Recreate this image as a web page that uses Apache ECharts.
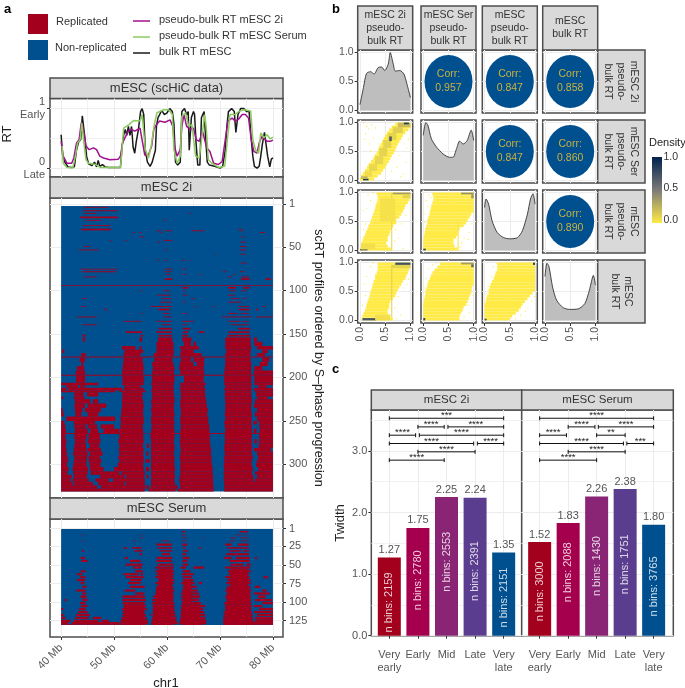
<!DOCTYPE html>
<html>
<head>
<meta charset="utf-8">
<script src="https://cdn.jsdelivr.net/npm/echarts@6/dist/echarts.min.js"></script>
<style>html,body{margin:0;padding:0;background:#fff}#chart{width:685px;height:688px}</style>
</head>
<body>
<div id="chart"></div>
<script>
// --- panel a: RT profiles, [Mb, RT]
var rtBulk = [[40,.56],[40.3,.2],[40.7,.1],[41.3,.02],[42,.01],[42.5,.02],[42.9,.3],[43.3,.44],[43.7,.48],[44,.88],[44.2,.85],[44.5,.5],[44.8,.2],[45.2,.07],[45.8,.04],[46.3,.1],[46.7,.02],[47,.13],[47.3,.03],[47.8,.06],[48.3,.02],[49,.01],[50.5,.01],[51.2,.01],[51.5,.35],[51.8,.55],[52.1,.65],[52.4,.55],[52.7,.7],[53,.55],[53.3,.7],[53.6,.35],[53.9,.25],[54.2,.45],[54.6,.65],[55,.95],[55.3,1],[55.6,.9],[55.9,.3],[56.3,.1],[56.8,.03],[57.2,.1],[57.5,.1],[57.8,.3],[58,.7],[58.3,.85],[58.6,.9],[59,.97],[59.5,.9],[60,.93],[60.5,1],[61,.95],[61.3,.75],[61.6,.1],[62,.05],[62.5,.1],[62.8,.95],[63.3,1],[63.7,.9],[64,.95],[64.2,.3],[64.6,.85],[65,.95],[65.2,.9],[65.5,.4],[65.8,.05],[66.2,.05],[66.5,.85],[67,.95],[67.3,.5],[67.6,.1],[68,.05],[69,.03],[70,0],[70.5,.03],[71,.3],[71.3,.7],[71.6,.95],[72.2,1],[72.7,.95],[73,.6],[73.4,.9],[73.9,1],[74.5,1],[75,.95],[75.5,.95],[75.9,.5],[76.2,.2],[76.5,.03],[77,0],[77.4,.03],[77.7,.2],[78,.4],[78.4,.6],[78.7,.4],[79,.2],[79.4,.02],[79.7,.15],[80,.17]];
var rt2i = [[40,.45],[40.4,.2],[41.1,.08],[42,.08],[42.4,.17],[42.9,.42],[43.4,.48],[43.8,.76],[44.1,.7],[44.3,.59],[44.7,.37],[45.3,.31],[46.1,.34],[46.7,.31],[47.3,.2],[48,.17],[49.2,.14],[50.8,.15],[51.2,.2],[51.6,.42],[52,.5],[52.7,.62],[53.3,.65],[53.9,.62],[54.9,.67],[55.2,.67],[55.4,.42],[55.8,.22],[56.4,.2],[57.1,.37],[57.5,.65],[58,.73],[58.6,.79],[59.6,.77],[60.6,.81],[61.1,.7],[61.4,.37],[61.9,.2],[62.5,.31],[62.8,.7],[63.2,.9],[63.7,.7],[64.4,.65],[65,.67],[65.5,.48],[66.1,.45],[66.7,.62],[67,.59],[67.5,.34],[68.1,.28],[68.8,.08],[69.7,.06],[70.4,.11],[71,.48],[71.5,.79],[72.3,.84],[72.9,.79],[73.5,.82],[74.2,.9],[74.8,.9],[75.4,.84],[75.9,.48],[76.4,.28],[77,.25],[77.4,.42],[77.9,.53],[78.9,.45],[79.5,.45],[80,.47]];
var rtSerum = [[40.2,.37],[40.4,.08],[41.1,.01],[42.2,0],[42.7,.2],[43.1,.42],[43.6,.48],[43.9,.76],[44.3,.42],[44.7,.14],[45.2,.08],[46.5,.06],[47.4,.01],[50.6,.01],[51.2,.01],[51.4,.2],[51.8,.67],[52.8,.73],[53.7,.8],[54.9,.79],[55.3,.9],[55.6,.87],[55.9,.31],[56.5,.17],[57,.37],[57.6,.73],[58.1,.93],[59.4,.98],[60.3,.98],[61,.9],[61.3,.31],[61.9,.08],[62.5,.2],[62.8,.87],[63.5,.93],[64.1,.7],[64.7,.73],[65.4,.2],[66.1,.17],[67.1,.9],[67.4,.7],[67.8,.14],[68.5,.08],[69.8,.01],[70.9,.03],[71.4,.48],[71.9,.9],[72.8,.9],[73.7,.96],[74.5,.98],[75.8,.96],[76.2,.48],[76.7,.31],[77.3,.25],[77.7,.59],[78.3,.51],[78.9,.56],[79.5,.49],[80,.52]];

// --- panel a: replicated stretches per group of profiles, [rowFrom, rowTo, [mbFrom, mbTo, ...]]
var heat2i = [
[4,4,[44.3,49]],[8,8,[44.1,50.7]],[11,11,[44.3,46.8,64.2,64.6]],[15,16,[43.6,50.7]],[19,19,[44.6,47.5,59.4,59.8]],[25,25,[44.1,49.3]],[29,30,[43.8,49.4,73.6,74]],
[31,31,[58,58.9,59.6,60.9,64.6,67,74,74.5]],[33,33,[53.5,53.9,54.8,55.2,58.6,59,77.5,78.5]],[38,38,[54.8,55.6,74,74.6]],[42,42,[59.4,61,49.2,49.6,52,52.4]],[44,44,[58.2,58.8,73.8,74.8]],
[49,49,[44.3,45.5,73.8,75]],[53,53,[43.3,47.1,59.6,60,73.7,75]],[58,58,[73.9,74.8,69,69.3]],[65,65,[58.1,58.5,59.5,60,62.8,63.3,64.2,64.5]],[68,68,[73.9,75]],
[75,75,[43.6,50.7,59.7,61,63,63.6]],[78,78,[44,50.4,59.6,60.8,70.5,71.2,73.8,74.5]],[81,81,[59.8,60.7,63,63.6,66,66.4,72.6,73]],[84,84,[44.3,46.8,71.5,72.2,74,75.5]],[86,87,[59.6,61,74,75.6,78.6,79.6]],
[94,94,[40,80]],[96,97,[63,64,71.5,73,74.4,75.6]],[100,100,[59.4,60.5,63,63.4,71.8,73,74,75,54.9,55.3]],[105,105,[58.1,60.7,63,63.8,71.5,72.8]],[109,109,[59,60.8,44,44.8,64.6,65.2,72,73.6,74.4,75]],[113,113,[58.6,60.9,63,63.5,71.6,74]],
[118,118,[56.9,60.9,43.8,44.6,65.2,65.6,68.6,69,73.4,75.5,78,78.6]],[121,122,[58.4,60.5,73.6,75.6,48.2,48.6,76.8,77.2]],[126,126,[55,55.4,59.2,60.6,63,63.7,71.5,73.4,74,75.5]],[130,130,[43,46.8,59.4,60.9,70.4,76,76.8,80]],
[135,135,[51.8,55.2,58,61,62.8,65.1,71.5,74,74.4,75.4]],[139,139,[44,46.8,59,60.8,63,63.8,72,75.5]],[143,144,[58.4,61,63,64.4,73.4,75.7]],[147,148,[52.2,55.3,58,60.9,63,64,66,67,71.6,75.6]],[151,152,[44,44.6,55,55.5,58.4,61,62.8,64,71.5,75.7]],
[154,158,[44.1,44.5,54.8,55.3,58.3,61,62.9,64.6,71,75.8,76.4,77]],[159,163,[58,61.2,63.2,64.5,65,65.5,71,75.8,76.5,78]],[164,167,[51.5,54,54.8,55.2,58,61.2,62.5,66,71,75.9,77,80]],[168,171,[40.2,40.6,52,55.5,58,61.3,62.6,65,71.2,75.8,78,79]],[172,175,[43.8,44.6,51.8,55,57.5,61.2,62.5,66.5,71,75.7,77,78.5]],
[176,176,[40,80]],[177,181,[43.5,44.5,51.8,55.4,57.6,61,62.6,64.5,65,67,71,75.8,78,79.3]],[182,186,[43.8,44.2,51.7,55.5,57.2,61.2,62.4,65,65.6,67,71,75.9,77.5,79]],[187,191,[43,44.3,51.6,55.6,57.3,61.4,62.3,66.9,70.9,75.9,76.5,78]],[192,196,[42.8,44.5,51.5,55.5,57.2,61.3,62.5,67,70.8,75.9,76.4,80]],
[197,197,[40,80]],[198,205,[42.8,44.5,51.6,55.6,57.2,61.4,63.2,66.9,70.8,75.9,76.5,80]],[206,208,[40,47,51.5,55.6,57,61.3,62.5,67.3,70.8,76,76.5,80]],[209,211,[41,43.2,43.6,44.5,52,55,57.2,61.2,62.5,67,71,75.9,77.2,78.8]],[212,214,[40,41,41.4,51.5,51.8,55.6,57.1,61.3,62.4,67.2,70.8,76,76.4,80]],[215,216,[40,50.2,51,56,57,61.2,62.6,67.2,71,75.9,76.6,80]],
[217,221,[42.5,44.2,44.9,47,51.6,55.4,57.2,61.3,62.6,67.2,70.9,75.9,76.8,80]],[222,224,[40,40.4,42.4,44.4,51.5,55.3,57.2,61.4,62.6,67.3,70.9,76,77,79]],[225,229,[42.6,45.5,46,47,51.5,55.5,57,61.4,62.5,67.4,71,76,76.6,80]],[230,234,[42.5,44.5,45,48.5,51.5,55.6,57.1,61.3,62.5,67.5,71,75.9,76.4,80]],[235,239,[40,40.3,42.6,44,44.5,47.5,51.4,55.5,57,61.3,62.6,67.7,71,75.9,77,80]],
[240,244,[40,40.5,42.7,43.8,45,47,51.3,55.5,57.1,61.4,62.6,67.6,70.9,76,76.6,80]],[245,249,[41,50.2,51.2,55.6,57,61.3,62.5,67.8,71,76,77,80]],[250,253,[40,40.6,42.4,46.4,51.3,55.6,57,61.4,62.5,67.8,70.8,75.9,76.3,77,77.4,80]],[254,258,[40,40.8,42.5,44.6,45,46.8,47.5,50,51.2,55.4,57.1,61.3,62.6,68,70.9,76,77.4,80]],[259,263,[40,40.9,42.6,45,45.5,47,48,51,51.1,55.5,57,61.4,62.5,68,71,76,76.4,76.9,77.5,80]],
[264,264,[40,51.5,51.7,56,56.6,80]],[265,270,[40,40.8,42.5,44.8,45.2,47.3,51,55.5,56.9,61.4,62.5,68.1,70.9,76,77.4,80]],[271,275,[40,41,42.6,44.6,45,47.4,50.8,55.6,57,61.3,62.4,68.1,70.9,76,76.5,77,77.4,80]],[276,280,[40,40.9,42.5,44.7,45.4,47.2,51,55.4,56.2,56.6,57,61.4,62.5,68.2,70.8,76,77.3,80]],[281,284,[40,41,42.4,44.8,45,47.5,50.9,55.6,57,61.4,62.6,68.3,70.8,76,76.4,79.6]],[285,289,[40,41.1,42.3,45,45.4,47.8,51,55.5,56.1,56.5,57,61.3,62.5,68.3,70.9,76,77,80]],
[290,293,[40,41.2,42.5,44.9,45.2,47.3,50.8,55.6,57,61.4,62.4,68.4,70.8,76.2,77.2,80]],[294,297,[40,41.3,42.4,44.8,45.2,47.6,51,55.6,55.9,56.7,57,61.4,62.5,68.4,70.8,76,77,80]],[298,302,[40,41.1,42.3,44.8,45.4,47.4,50.7,55.5,57,61.4,62.5,68.5,70.7,76,76.8,80]],[303,307,[40,41.4,42.2,45.1,45.5,48,50,55.6,56,56.6,57,61.5,62.5,68.6,70.8,76.2,77.2,80]],[308,311,[40,41.2,42.3,45,45.6,51,51.4,55.8,57,61.4,62.5,68.6,70.7,76,76.6,80]],
[312,315,[40,42,42.4,44.8,47.4,52,52.3,55.7,56.1,56.5,57,61.5,62.4,68.7,70.8,76.3,77,80]],[316,319,[40,41.8,42.2,45.2,46.5,49,49.8,55.8,57,61.4,62.3,68.7,70.7,76.3,76.6,80]],[320,323,[40,42.2,42.5,46,47,52,52.3,55.8,57,61.5,62.4,68.7,70.8,80]],[324,327,[40,46.8,47.5,55.9,56.1,56.6,56.9,62,62.5,68.8,70.8,80]],[328,330,[40,55.8,56.5,61.6,62,68.8,70.8,80]]
];
var heatSerum = [
[4,5,[73.7,75.3,62.8,63.4]],[9,9,[43.9,44.3,54.9,55.3,62.8,63.6,73,74,74.6,75.2]],[13,13,[54.8,55.4,62.9,63.8,72,73,73.8,75.4,66.7,67]],[17,17,[43.8,44.2,53.5,54,59,60.5,62.8,63.5,71.8,72.8,74,75.4]],
[21,23,[58,60.9,62.9,63.8,71,72.2,73.4,75.4]],[26,27,[51.8,52.5,53.4,55.2,58.2,61,63,63.5,71.4,75.4,66,66.4]],[30,31,[53.8,55.4,58.6,61,43.9,44.4,63,64,71.8,74,74.4,75.5]],[34,36,[54.8,55.3,59,60.6,62.9,63.6,71.2,75.5]],
[39,41,[43.7,44.5,52,52.6,58,61,63,64.2,70.8,72.2,73,75.6,76.6,77]],[43,45,[43.8,45,53,55,58,60.9,62.9,63.8,71.8,75.6]],[48,50,[52.2,55.4,58.2,61.2,63,64,72,74.4,75,75.8]],[52,54,[53.6,55.2,57.8,61.2,62.6,63.6,65,67,71,75.7]],
[55,80,[58.4,60.9,72,75.2]],[70,100,[63.1,64.6]],[57,59,[43.7,44.6,54,55.4,57.8,61.3,63,64.4,71.5,75.8]],[61,63,[43,44,51.8,54.6,55,55.5,58,61.3,62.8,65,71.6,75.4]],[65,67,[43.6,44.6,52.2,55.6,57.8,61.2,63,64.7,71,75.6,78.2,79]],[69,71,[43,44.5,53,55.2,58.4,61.4,63,65,71.4,75.8]],
[73,75,[43.7,44.4,52.6,55,57.8,61.3,62.7,65.2,66,66.6,71.2,75.8]],[78,80,[44,44.8,53,55.8,58,61.2,63,65.6,71.3,75.7,76.6,77.6]],[81,100,[57.9,61,71.3,75.6]],[83,85,[42.9,44.6,52,54,58,61.4,62.8,65.8,71,75.9,78,78.8]],[87,89,[44,44.7,54,55.7,57.8,61.2,62.6,66,71.4,75.8,76.4,79.4]],
[91,94,[43.7,44.8,51.6,55.8,57.4,61.3,62.7,66.2,71,75.8,77.2,78.6]],[96,98,[40.6,41,44,45,51.6,56,57.2,61.2,62.7,66,71.2,75.9,76.6,79.8]],[100,102,[43.6,44.6,51.6,55.8,57.2,61.4,62.8,66.4,70.8,75.9,78,80]],[103,130,[51.9,55.6,57.4,61.2,62.8,66.2,71,75.8]],[104,106,[43.7,45,51.8,56,57.3,61.4,62.6,67.2,71,76,76.4,78]],
[108,110,[40,40.4,43.4,44.6,51.5,56.2,57.3,61.4,62.6,66.8,71.1,75.9,77.4,80]],[112,114,[43.2,45,51.6,55.8,57.3,61.5,62.6,67,70.7,76,76.4,80]],[116,118,[40,40.5,42.8,45.4,51.6,56,56.8,57,57.3,61.6,62.5,67.2,70.7,76.2,77,80]],[120,122,[40,40.8,42.6,45.2,46,47.6,51.4,56.2,57.2,61.8,62.5,67.2,70.6,76.2,76.6,80]],
[123,123,[51.5,56,57.1,61.7,62.5,67.3,70.6,76.2,77,80]],[124,126,[40,41.8,42.4,47,47.6,49,51.2,56.4,57.1,61.8,62.4,67.4,70.6,76.3,76.6,80]],[127,129,[40,41.4,42,51,51.2,56.4,57,62,62.3,67.4,70.6,80]],[130,130,[40,56,57,60.9,63.4,66.8,70.6,80]]
];

// --- panel b
var corrValues = [[null,'0.957','0.847','0.858'],[null,null,'0.847','0.860'],[null,null,null,'0.890'],[null,null,null,null]];
var density1 = [[0,.1],[.07,.4],[.13,.64],[.21,.67],[.28,.63],[.36,.74],[.43,.75],[.49,.69],[.56,.8],[.6,1],[.66,.8],[.7,.68],[.79,.69],[.87,.63],[.93,.46],[1,.22]];
var density2 = [[0,.78],[.05,1],[.09,.96],[.16,.72],[.26,.58],[.39,.46],[.52,.4],[.59,.4],[.66,.55],[.72,.68],[.79,.63],[.87,.69],[.95,.87],[1,.69]];
var density3 = [[0,.74],[.03,.89],[.08,.8],[.15,.51],[.25,.31],[.38,.22],[.51,.2],[.65,.22],[.75,.34],[.85,.63],[.91,.89],[.96,.98],[1,.8]];
var density4 = [[0,.76],[.04,.99],[.08,.93],[.15,.58],[.23,.35],[.36,.22],[.49,.19],[.66,.2],[.79,.29],[.88,.52],[.96,.78],[1,.61]];
// cloud outline of each hexbin panel: [yBottom, xFrom, xTo]
var cloud21 = [[0,0,.28],[.05,.02,.35],[.1,.06,.42],[.15,.1,.46],[.2,.14,.5],[.25,.17,.53],[.3,.22,.57],[.35,.26,.6],[.4,.29,.63],[.45,.33,.67],[.5,.36,.7],[.55,.38,.72],[.6,.41,.75],[.65,.44,.78],[.7,.47,.82],[.75,.5,.85],[.8,.54,.9],[.85,.58,.96],[.9,.63,1],[.95,.7,1]];
var cloud31 = [[0,0,.62],[.05,.02,.55],[.1,.03,.52],[.15,.05,.55],[.2,.07,.55],[.25,.1,.58],[.3,.12,.6],[.35,.15,.63],[.4,.17,.66],[.45,.2,.72],[.5,.22,.72],[.55,.24,.78],[.6,.26,.82],[.65,.28,.85],[.7,.3,.88],[.75,.31,.9],[.8,.33,.95],[.85,.35,.98],[.9,.35,1],[.95,.33,1]];
var cloud32 = [[0,0,.68],[.05,0,.62],[.1,0,.6],[.15,0,.6],[.2,.01,.65],[.25,.02,.68],[.3,.03,.7],[.35,.04,.72],[.4,.06,.8],[.45,.08,.85],[.5,.08,.88],[.55,.1,.92],[.6,.12,.95],[.65,.13,1],[.7,.15,1],[.75,.16,1],[.8,.18,1],[.85,.2,1],[.9,.2,1],[.95,.18,1]];
var cloud41 = [[0,.03,.65],[.05,.05,.6],[.1,.07,.55],[.15,.1,.55],[.2,.12,.58],[.25,.13,.58],[.3,.15,.6],[.35,.17,.65],[.4,.19,.7],[.45,.2,.72],[.5,.22,.75],[.55,.24,.78],[.6,.25,.82],[.65,.27,.85],[.7,.3,.9],[.75,.3,.92],[.8,.33,.95],[.85,.35,.97],[.9,.35,1],[.95,.35,1]];
var cloud42 = [[0,0,.72],[.05,0,.72],[.1,0,.75],[.15,0,.78],[.2,0,.8],[.25,0,.85],[.3,.01,.88],[.35,.02,.9],[.4,.03,.92],[.45,.04,.95],[.5,.05,.96],[.55,.07,.97],[.6,.08,1],[.65,.1,1],[.7,.13,1],[.75,.15,1],[.8,.18,1],[.85,.22,1],[.9,.28,1],[.95,.33,1]];
var cloud43 = [[0,0,.5],[.05,0,.55],[.1,0,.62],[.15,0,.68],[.2,0,.72],[.25,0,.75],[.3,.02,.8],[.35,.03,.85],[.4,.05,.9],[.45,.08,.95],[.5,.08,1],[.55,.1,1],[.6,.12,1],[.65,.15,1],[.7,.18,1],[.75,.2,1],[.8,.22,1],[.85,.25,1],[.9,.25,1],[.95,.25,1]];
// denser spots of each panel: [xFrom, xTo, yFrom, yTo, density]
var spots21 = [[.1,.24,.06,.16,.06],[.18,.34,.16,.28,.08],[.3,.46,.28,.42,.09],[.38,.54,.42,.56,.1],[.46,.62,.56,.7,.1],[.55,.72,.7,.82,.1],[.65,.85,.82,.92,.12],[.75,1,.92,1,.2],[.06,.17,0,.03,.85],[.58,.63,.68,.76,.7],[.87,.97,.97,1,.85],[.02,.15,.03,.07,.25]];
var spots31 = [[.62,.64,0,1,.1],[.65,1,.97,1,.35],[.85,1,.9,.97,.1],[0,.15,0,.02,.7],[.02,.3,.02,.12,.05],[.4,.7,.5,.9,.04]];
var spots32 = [[0,.05,0,.03,.8],[.75,1,.97,1,.4],[.95,1,.9,.97,.35],[.68,.7,0,.5,.03]];
var spots41 = [[.05,.32,0,.04,.7],[.7,1,.96,1,.75],[.62,.64,.05,.96,.12],[.62,1,.9,.96,.1],[.3,.6,0,.1,.05]];
var spots42 = [[0,.04,0,.04,.8],[.75,1,.97,1,.35],[.95,1,.92,.97,.6]];
var spots43 = [[0,.04,0,.03,.75],[.96,1,.96,1,.8]];
// lone cells outside the clouds: [x, y]
var lone21 = [[.06,.98],[.12,.92],[.16,.88],[.1,.8],[.22,.95],[.08,.7],[.26,.72],[.3,.9],[.18,.62],[.36,.62],[.2,.5],[.85,.1],[.8,.05],[.72,.22],[.9,.3],[.78,.42],[.92,.55],[.62,.15],[.95,.7],[.88,.62]];
var lone31 = [[.05,.68],[.12,.72],[.2,.85],[.1,.45],[.06,.35],[.7,.35],[.68,.15],[.75,.2],[.82,.45],[.85,.02],[.9,.6],[.15,.95],[.25,.98]];
var lone32 = [[.02,.62],[.08,.75],[.05,.85],[.1,.95],[.14,.9],[.02,.48],[.75,.12],[.8,.2],[.72,.05],[.9,.3],[.95,.45],[.88,.18]];
var lone41 = [[.12,.75],[.08,.62],[.2,.92],[.25,.98],[.1,.42],[.04,.25],[.68,.2],[.75,.4],[.8,.08],[.85,.55],[.92,.62],[.72,.02],[.95,.7]];
var lone42 = [[.02,.55],[.05,.72],[.1,.88],[.18,.95],[.25,.98],[.95,.3],[.9,.12],[.88,.25],[.8,.05],[.98,.42]];
var lone43 = [[.02,.45],[.06,.58],[.12,.75],[.16,.92],[.22,.98],[.8,.15],[.6,.02],[.7,.08],[.85,.2],[.92,.32],[.98,.4]];

// --- panel c
var stageNames = ['Very\nearly','Early','Mid','Late','Very\nlate'];
var twidth2i = [1.27,1.75,2.25,2.24,1.35];
var twidthSerum = [1.52,1.83,2.26,2.38,1.80];
var bins2i = [2159,2780,2553,2391,2151];
var binsSerum = [3000,2088,1430,1751,3765];
// brackets: [xFrom, xTo, y, stars]
var brackets2i = [[1,5,3.53,'***'],[2,2.92,3.39,'****'],[3.05,5,3.39,'****'],[1,1.92,3.255,'****'],[2.05,5,3.255,'****'],[1,3.95,3.12,'****'],[4.08,5,3.12,'****'],[2,4,2.985,'****'],[1,2.92,2.85,'****']];
var bracketsSerum = [[1,5,3.53,'****'],[2,2.94,3.39,'****'],[3.06,5,3.39,'****'],[1,1.94,3.255,'****'],[3,4,3.255,'**'],[1,3.94,3.12,'****'],[4.06,5,3.12,'***'],[2,4,2.985,'****'],[1,3,2.85,'****']];

// --- look
var fontName = '"Liberation Sans", Arial, sans-serif';
var tickText = '#555555';
var frameColor = '#4d4d4d';
var guideColor = '#ececec';
var replicatedRed = '#a3001e';
var nonRepBlue = '#00508f';
var stageColors = ['#a3001e','#a5004e','#8a2475','#5a3d8e','#00508f'];
var cividisLow = [255,234,70], cividisMid = [124,123,120], cividisHigh = [0,34,78];

var grids = [], xAxes = [], yAxes = [], series = [], gfx = [];

function densityColor(d) {
  var a = d < .5 ? cividisLow : cividisMid, b = d < .5 ? cividisMid : cividisHigh;
  var t = d < .5 ? d * 2 : (d - .5) * 2;
  return 'rgb(' + [0,1,2].map(function (i) { return Math.round(a[i] + (b[i] - a[i]) * t); }).join(',') + ')';
}

function makeAxis(gridIndex, opt) {
  var ticks = opt.ticks;
  var axis = {
    gridIndex: gridIndex, type: 'value', min: opt.min, max: opt.max, inverse: !!opt.inverse, position: opt.position,
    axisLine: {show: false, onZero: false},
    axisTick: {show: !!opt.tickShow, length: 3, customValues: ticks, lineStyle: {color: '#333', width: 1}},
    axisLabel: {show: !!opt.labels, customValues: opt.labelValues || ticks, formatter: opt.formatter, color: tickText,
      fontFamily: fontName, fontSize: opt.fontSize || 10.5, margin: opt.margin || 4, rotate: opt.rotate || 0, lineHeight: opt.lineHeight, hideOverlap: false},
    splitLine: {show: true, lineStyle: {color: guideColor, width: opt.splitWidth || 1}}
  };
  return axis;
}

// one panel = a framed grid; returns the axis indices for the series
function addPanel(box, xOpt, yOpt) {
  var i = grids.length;
  grids.push({left: box[0], top: box[1], width: box[2], height: box[3], show: true, backgroundColor: '#fff', borderColor: frameColor, borderWidth: 1.5});
  var xi = xAxes.length, yi = yAxes.length;
  xAxes.push(makeAxis(i, xOpt));
  yAxes.push(makeAxis(i, yOpt));
  return {x: xi, y: yi};
}

function addGuideX(panelGrid, min, max, values) {
  xAxes.push(makeAxis(panelGrid, {min: min, max: max, ticks: values, splitWidth: .7, position: 'top'}));
}
function addGuideY(panelGrid, min, max, values) {
  yAxes.push(makeAxis(panelGrid, {min: min, max: max, ticks: values, splitWidth: .7, position: 'right'}));
}

function strip(x, y, w, h, text, size, rotated) {
  gfx.push({type: 'rect', silent: true, shape: {x: x, y: y, width: w, height: h}, style: {fill: '#d9d9d9', stroke: frameColor, lineWidth: 1.5}});
  gfx.push({type: 'text', silent: true, x: x + w / 2, y: y + h / 2, rotation: rotated ? -Math.PI / 2 : 0,
    style: {text: text, fill: '#333', font: size + 'px ' + fontName, align: 'center', verticalAlign: 'middle', lineHeight: size + 2.5}});
}
function label(x, y, text, size, opt) {
  opt = opt || {};
  gfx.push({type: 'text', silent: true, x: x, y: y, rotation: opt.rotation || 0,
    style: {text: text, fill: opt.fill || '#222', font: (opt.bold ? 'bold ' : '') + size + 'px ' + fontName, align: opt.align || 'left', verticalAlign: 'middle'}});
}

function rectSeries(axes, data, z) {
  series.push({
    type: 'custom', xAxisIndex: axes.x, yAxisIndex: axes.y, data: data, z: z || 2, silent: true, progressive: 0, animation: false, clip: true,
    renderItem: function (params, api) {
      var a = api.coord([api.value(0), api.value(2)]), b = api.coord([api.value(1), api.value(3)]);
      return {type: 'rect', shape: {x: Math.min(a[0], b[0]), y: Math.min(a[1], b[1]), width: Math.abs(b[0] - a[0]), height: Math.abs(b[1] - a[1])},
        style: {fill: data[params.dataIndex][4]}};
    }
  });
}

function heatCells(groups, fromRow, toRow) {
  var out = [[40, 80, fromRow, toRow, nonRepBlue]];
  groups.forEach(function (g) {
    for (var k = 0; k < g[2].length; k += 2) out.push([g[2][k], g[2][k + 1], g[0], g[1] + 1, replicatedRed]);
  });
  return out;
}

// ---------- panel a
var mbTicks = [40, 50, 60, 70, 80];
var mbGuides = [45, 55, 65, 75];
var mbMin = 37.9, mbMax = 81.9;

strip(50, 78, 233, 20.5, 'mESC (scHiC data)', 13);
var rtAxes = addPanel([50, 98.5, 233, 78.5],
  {min: mbMin, max: mbMax, ticks: mbTicks},
  {min: -.15, max: 1.17, ticks: [0, 1], tickShow: true, labels: true, fontSize: 11, lineHeight: 13, margin: 5,
   formatter: function (v) { return v === 1 ? '1\nEarly' : '0\nLate'; }});
addGuideX(0, mbMin, mbMax, mbGuides);
addGuideY(0, -.15, 1.17, [.5]);
[[rtBulk, '#1a1a1a'], [rt2i, '#a3108f'], [rtSerum, '#8ccb5e']].forEach(function (s) {
  series.push({type: 'line', xAxisIndex: rtAxes.x, yAxisIndex: rtAxes.y, data: s[0], showSymbol: false, silent: true, animation: false, z: 3,
    lineStyle: {color: s[1], width: 1.5}});
});

strip(50, 177, 233, 21, 'mESC 2i', 13);
var heatA = addPanel([50, 198, 233, 300],
  {min: mbMin, max: mbMax, ticks: mbTicks},
  {min: -6.2, max: 338.6, inverse: true, position: 'right', ticks: [1, 50, 100, 150, 200, 250, 300], tickShow: true, labels: true, fontSize: 11, margin: 6});
addGuideX(1, mbMin, mbMax, mbGuides);
rectSeries(heatA, heatCells(heat2i, 3, 331));

strip(50, 498, 233, 21, 'mESC Serum', 13);
var heatB = addPanel([50, 519, 233, 118],
  {min: mbMin, max: mbMax, ticks: mbTicks, tickShow: true, labels: true, rotate: 45, fontSize: 11, margin: 9,
   formatter: function (v) { return v + ' Mb'; }},
  {min: -12.1, max: 147.3, inverse: true, position: 'right', ticks: [1, 25, 50, 75, 100, 125], tickShow: true, labels: true, fontSize: 11, margin: 6});
addGuideX(2, mbMin, mbMax, mbGuides);
rectSeries(heatB, heatCells(heatSerum, 1.4, 131));

label(4, 9, 'a', 13, {bold: true, fill: '#000'});
label(7, 134, 'RT', 13, {rotation: Math.PI / 2, align: 'center'});
label(318, 358, 'scRT profiles ordered by S\u2013phase progression', 12.5, {rotation: -Math.PI / 2, align: 'center'});
label(166, 683, 'chr1', 13, {align: 'center'});

// legend of panel a
gfx.push({type: 'rect', silent: true, shape: {x: 28, y: 14, width: 20, height: 20}, style: {fill: replicatedRed}});
gfx.push({type: 'rect', silent: true, shape: {x: 28, y: 40, width: 20, height: 20}, style: {fill: nonRepBlue}});
label(56, 22, 'Replicated', 11, {fill: '#333'});
label(55, 48, 'Non-replicated', 11, {fill: '#333'});
[[20, '#a3108f', 'pseudo-bulk RT mESC 2i'], [36, '#8ccb5e', 'pseudo-bulk RT mESC Serum'], [52, '#1a1a1a', 'bulk RT mESC']].forEach(function (l) {
  gfx.push({type: 'line', silent: true, shape: {x1: 133, y1: l[0] + 1, x2: 150, y2: l[0] + 1}, style: {stroke: l[1], lineWidth: 1.5}});
  label(159, l[0], l[2], 11, {fill: '#333'});
});

// ---------- panel b
var colX = [357.7, 421, 482.3, 542.7];
var rowY = [50, 120, 190, 260];
var cellW = 55, cellH = 63;
var matrixTicks = [0, .5, 1];
var matrixMin = -.045, matrixMax = 1.045;
var diagonals = [density1, density2, density3, density4];
var hexPanels = {'1,0': [cloud21, spots21, lone21], '2,0': [cloud31, spots31, lone31], '2,1': [cloud32, spots32, lone32], '3,0': [cloud41, spots41, lone41], '3,1': [cloud42, spots42, lone42], '3,2': [cloud43, spots43, lone43]};
var fmt1 = function (v) { return v.toFixed(1); };

for (var r = 0; r < 4; r++) {
  for (var c = 0; c < 4; c++) {
    var ax = addPanel([colX[c], rowY[r], cellW, cellH],
      {min: matrixMin, max: matrixMax, ticks: matrixTicks, tickShow: r === 3, labels: r === 3, rotate: 90, formatter: fmt1, fontSize: 10.5, margin: 4},
      {min: matrixMin, max: matrixMax, ticks: matrixTicks, tickShow: c === 0, labels: c === 0, formatter: fmt1, fontSize: 10.5, margin: 4});
    if (r === c) {
      series.push({type: 'line', xAxisIndex: ax.x, yAxisIndex: ax.y, data: diagonals[r], showSymbol: false, silent: true, animation: false, smooth: .25,
        lineStyle: {color: '#333', width: .9}, areaStyle: {color: '#bebebe', opacity: 1}});
    } else if (r < c) {
      series.push({type: 'scatter', xAxisIndex: ax.x, yAxisIndex: ax.y, data: [[.5, .5]], symbol: 'circle', symbolSize: [48, 53], silent: true, animation: false,
        itemStyle: {color: nonRepBlue, opacity: 1},
        label: {show: true, position: 'inside', formatter: 'Corr:\n' + corrValues[r][c], color: '#c9b13f', fontFamily: fontName, fontSize: 10.5, lineHeight: 14}});
    } else {
      var hex = hexPanels[r + ',' + c], cells = [];
      hex[0].forEach(function (b) { cells.push([b[1], b[2], b[0], b[0] + .05, densityColor(0)]); });
      hex[2].forEach(function (p) { cells.push([p[0], p[0] + .02, p[1], p[1] + .02, densityColor(0)]); });
      hex[1].forEach(function (s) { cells.push([s[0], s[1], s[2], s[3], densityColor(s[4])]); });
      rectSeries(ax, cells);
    }
  }
}

var stripNames = ['mESC 2i\npseudo-\nbulk RT', 'mESC Ser\npseudo-\nbulk RT', 'mESC\npseudo-\nbulk RT', 'mESC\nbulk RT'];
stripNames.forEach(function (t, i) {
  strip(colX[i], 6, cellW, 44, t, 10.5);
  strip(colX[3] + cellW, rowY[i], 47.3, cellH, t, 10.5, true);
});
label(332, 9, 'b', 13, {bold: true, fill: '#000'});

// colour bar
label(649, 143, 'Density', 11, {fill: '#222'});
gfx.push({type: 'rect', silent: true, shape: {x: 652, y: 157, width: 10, height: 66},
  style: {fill: new echarts.graphic.LinearGradient(0, 0, 0, 1, [{offset: 0, color: densityColor(1)}, {offset: .5, color: densityColor(.5)}, {offset: 1, color: densityColor(0)}])}});
[['1.0', 157], ['0.5', 188], ['0.0', 220]].forEach(function (l) { label(663.5, l[1], l[0], 10.5, {fill: '#333'}); });

// ---------- panel c
var stageTicks = [1, 2, 3, 4, 5];
var stageFmt = function (v) { return stageNames[v - 1]; };
var twMax = 3.664;
var binLabelAt2i = [.54, .9, 1.2, 1.05, .62];
var binLabelAtSerum = [.72, 1.03, 1.13, 1.16, .8];

function twidthPanel(box, xMax, values, bins, brackets, labelAt, withY) {
  var gi = grids.length;
  var ax = addPanel(box,
    {min: .37, max: xMax, ticks: stageTicks, tickShow: true, labels: true, formatter: stageFmt, fontSize: 11, lineHeight: 13.3, margin: 12.5},
    {min: 0, max: twMax, ticks: [0, 1, 2, 3], tickShow: withY, labels: withY, formatter: fmt1, fontSize: 11, margin: 4});
  addGuideY(gi, 0, twMax, [.5, 1.5, 2.5, 3.5]);
  series.push({type: 'bar', xAxisIndex: ax.x, yAxisIndex: ax.y, barWidth: 23, silent: true, animation: false, z: 2,
    data: values.map(function (v, i) { return {value: [i + 1, v], itemStyle: {color: stageColors[i]}}; }),
    label: {show: true, position: 'top', distance: 2, color: tickText, fontFamily: fontName, fontSize: 11, formatter: function (p) { return p.value[1].toFixed(2); }}});
  series.push({type: 'scatter', xAxisIndex: ax.x, yAxisIndex: ax.y, symbolSize: 0, silent: true, animation: false, z: 4,
    data: bins.map(function (b, i) { return [i + 1, labelAt[i], b]; }),
    label: {show: true, position: 'inside', rotate: 90, color: '#fff', fontFamily: fontName, fontSize: 11, formatter: function (p) { return 'n bins: ' + p.value[2]; }}});
  series.push({type: 'custom', xAxisIndex: ax.x, yAxisIndex: ax.y, silent: true, animation: false, z: 5, progressive: 0,
    data: brackets.map(function (b) { return [b[0], b[1], b[2]]; }),
    renderItem: function (params, api) {
      var a = api.coord([api.value(0), api.value(2)]), b = api.coord([api.value(1), api.value(2)]);
      var line = {stroke: '#111', lineWidth: 1};
      return {type: 'group', children: [
        {type: 'line', shape: {x1: a[0], y1: a[1], x2: b[0], y2: b[1]}, style: line},
        {type: 'line', shape: {x1: a[0], y1: a[1] - 2, x2: a[0], y2: a[1] + 2}, style: line},
        {type: 'line', shape: {x1: b[0], y1: b[1] - 2, x2: b[0], y2: b[1] + 2}, style: line},
        {type: 'text', x: (a[0] + b[0]) / 2, y: a[1] - 2.5, style: {text: brackets[params.dataIndex][3], fill: '#222', font: '9.5px ' + fontName, align: 'center', verticalAlign: 'middle'}}
      ]};
    }});
}

twidthPanel([371.3, 410, 150.4, 225.7], 5.63, twidth2i, bins2i, brackets2i, binLabelAt2i, true);
twidthPanel([521.7, 410, 151.6, 225.7], 5.69, twidthSerum, binsSerum, bracketsSerum, binLabelAtSerum, false);
strip(371.3, 390, 150.4, 20, 'mESC 2i', 11.5);
strip(521.7, 390, 151.6, 20, 'mESC Serum', 11.5);
label(332, 369, 'c', 13, {bold: true, fill: '#000'});
label(340, 523, 'Twidth', 13, {rotation: Math.PI / 2, align: 'center'});

var myChart = echarts.init(document.getElementById('chart'));
myChart.setOption({
  animation: false,
  backgroundColor: '#fff',
  textStyle: {fontFamily: fontName},
  grid: grids,
  xAxis: xAxes,
  yAxis: yAxes,
  series: series,
  graphic: {elements: gfx}
});
</script>
</body>
</html>
